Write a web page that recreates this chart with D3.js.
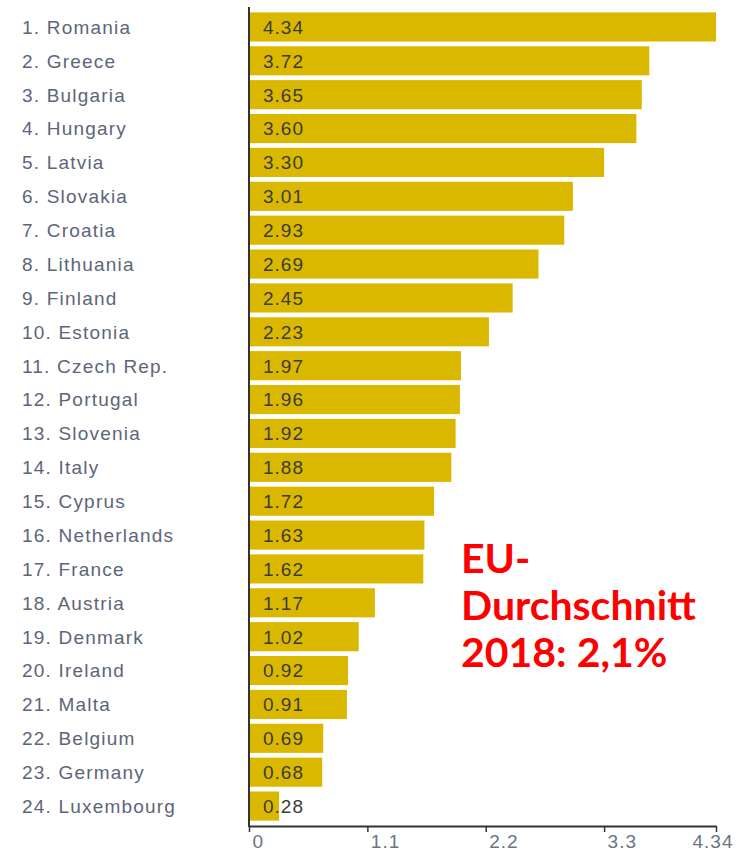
<!DOCTYPE html>
<html><head><meta charset="utf-8">
<script src="https://cdn.jsdelivr.net/npm/d3@7"></script>
<style>body{margin:0;background:#fff}svg{display:block}</style>
</head><body>
<svg id="c" width="741" height="852"></svg>
<script>
const countries = ["Romania","Greece","Bulgaria","Hungary","Latvia","Slovakia","Croatia","Lithuania","Finland","Estonia","Czech Rep.","Portugal","Slovenia","Italy","Cyprus","Netherlands","France","Austria","Denmark","Ireland","Malta","Belgium","Germany","Luxembourg"];
const values = [4.34,3.72,3.65,3.60,3.30,3.01,2.93,2.69,2.45,2.23,1.97,1.96,1.92,1.88,1.72,1.63,1.62,1.17,1.02,0.92,0.91,0.69,0.68,0.28];
const tickValues = [0,1.1,2.2,3.3,4.34];
const noteLines = ["EU-","Durchschnitt","2018: 2,1%"];

const svg = d3.select("#c");
const labels = countries.map((c,i)=>(i+1)+". "+c);
const x = d3.scaleLinear().domain([0,4.34]).range([249,716]);
const y = d3.scaleBand().domain(labels).range([10,823]).paddingInner(0.14).paddingOuter(0.07);
const font = "'Liberation Sans', Arial, sans-serif";

svg.selectAll("rect.bar").data(values).join("rect")
  .attr("class","bar")
  .attr("x", x(0)+1)
  .attr("y",(d,i)=>y(labels[i]))
  .attr("width", d=>x(d)-x(0)-1)
  .attr("height", y.bandwidth())
  .attr("fill","#dbb800");

svg.selectAll("text.val").data(values).join("text")
  .attr("class","val")
  .attr("x", x(0)+14)
  .attr("y",(d,i)=>y(labels[i])+y.bandwidth()/2)
  .attr("dy","0.36em")
  .attr("font-family",font).attr("font-size",19).attr("letter-spacing",1)
  .attr("fill","#3b3b3b")
  .text(d=>d.toFixed(2));

svg.selectAll("text.lab").data(labels).join("text")
  .attr("class","lab")
  .attr("x",22)
  .attr("y",d=>y(d)+y.bandwidth()/2)
  .attr("dy","0.36em")
  .attr("font-family",font).attr("font-size",19).attr("letter-spacing",1.2)
  .attr("fill","#5c6678")
  .text(d=>d);

// vertical axis line
svg.append("line").attr("x1",x(0)).attr("x2",x(0)).attr("y1",7).attr("y2",827)
  .attr("stroke","#333").attr("stroke-width",2);

const ax = svg.append("g").attr("transform","translate(0,826)")
  .call(d3.axisBottom(x).tickValues(tickValues).tickSize(6).tickSizeOuter(0).tickFormat(d=>String(d)));
ax.select(".domain").attr("stroke","#333").attr("stroke-width",2);
ax.selectAll(".tick line").attr("stroke","#333").attr("stroke-width",1.5);
ax.selectAll(".tick text")
  .attr("font-family",font).attr("font-size",19).attr("letter-spacing",1)
  .attr("fill","#6b7482")
  .attr("text-anchor",(d,i)=>i===tickValues.length-1?"end":"start")
  .attr("x",(d,i)=>i===tickValues.length-1?17:3)
  .attr("y",9).attr("dy","0.71em");

svg.append("g").selectAll("text").data(noteLines).join("text")
  .attr("x",461)
  .attr("y",(d,i)=>573+i*47)
  .attr("font-family","Lato, 'Open Sans', sans-serif").attr("font-weight","bold")
  .attr("font-size",41)
  .attr("fill","#ff0000")
  .text(d=>d);
</script>
</body></html>
